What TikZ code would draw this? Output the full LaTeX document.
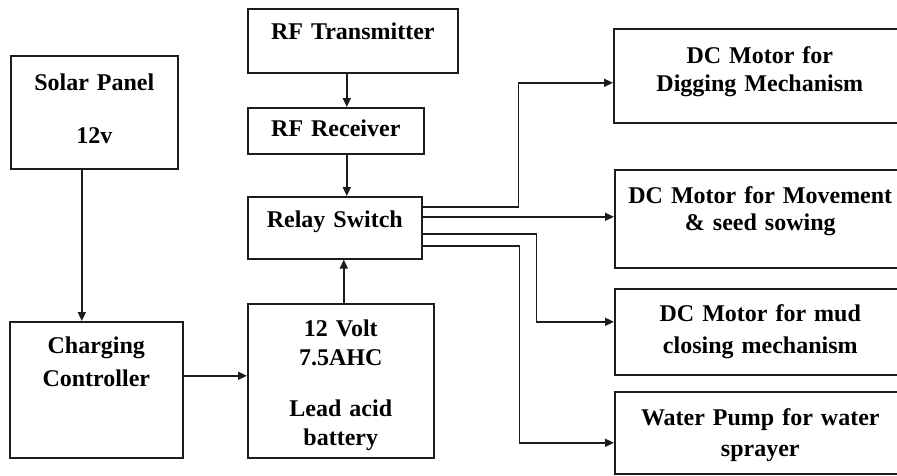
\documentclass[tikz,border=0pt]{standalone}
\usepackage{fontspec}
\setmainfont{Liberation Serif}
\usepackage{xcolor}
\definecolor{ink}{HTML}{1C1C1C}
\usetikzlibrary{arrows.meta,positioning}
\tikzset{
  >={Triangle[length=9pt,width=8pt]},
  box/.style={draw=ink,line width=1.6pt,inner sep=0pt,anchor=north west,align=center,
    font=\fontsize{24}{29}\selectfont\bfseries},
  arr/.style={->,draw=ink,line width=1.6pt},
}

\begin{document}
\begin{tikzpicture}[x=1pt,y=-1pt]
\useasboundingbox (0,0) rectangle (897,475);
\clip (0,0) rectangle (897,475);
% power side
\node[box,text width=167pt,text height=35pt,text depth=78pt] (solar) at (10,55) {Solar Panel\\[24pt]12v};
\node[box,text width=173pt,text height=32pt,text depth=104pt] (ctrl) at (9,321) {Charging\\[4pt]Controller};
\node[box,text width=186pt,text height=33pt,text depth=121pt] (batt) at (247,303) {12 Volt\\7.5AHC\\[22pt]Lead acid\\battery};
% remote chain
\node[box,text width=210pt,text height=31pt,text depth=33pt] (tx) at (247,8) {RF Transmitter};
\node[box,text width=176pt,text height=29pt,text depth=17pt] (rx) at (247,107) {RF Receiver};
\node[box,text width=174pt,text height=31pt,text depth=31pt] (relay) at (247,196) {Relay Switch};
% loads
\node[box,text width=292pt,text height=35pt,text depth=59pt] (dig) at (613,28) {DC Motor for\\[-1pt]Digging Mechanism};
\node[box,text width=291pt,text height=34pt,text depth=64pt] (move) at (614,169) {DC Motor for Movement\\[-2pt]\& seed sowing};
\node[box,text width=291pt,text height=33pt,text depth=53pt] (mud) at (614,288) {DC Motor for mud\\[3pt]closing mechanism};
\node[box,text width=291pt,text height=34pt,text depth=48pt] (water) at (614,391) {Water Pump for water\\[2pt]sprayer};

\draw[arr] ([xshift=-12.5pt]solar.south) -- ([xshift=-14.5pt]ctrl.north);
\draw[arr] ([yshift=14pt]ctrl.east) -- ([yshift=5pt]batt.west);
\draw[arr] ([xshift=3pt]batt.north) -- ([xshift=9pt]relay.south);
\draw[arr] ([xshift=-6pt]tx.south) -- ([xshift=11pt]rx.north);
\draw[arr] ([xshift=11pt]rx.south) -- ([xshift=12pt]relay.north);
% relay outputs
\draw[arr] ([yshift=21pt]relay.east) -- ++(96,0) |- ([yshift=-7pt]dig.west);
\draw[arr] ([yshift=11pt]relay.east) -- ([yshift=2pt]move.west);
\draw[arr] ([yshift=-6pt]relay.east) -- ++(114,0) |- ([yshift=10pt]mud.west);
\draw[arr] ([yshift=-18pt]relay.east) -- ++(97,0) |- ([yshift=-10pt]water.west);
\end{tikzpicture}
\end{document}
